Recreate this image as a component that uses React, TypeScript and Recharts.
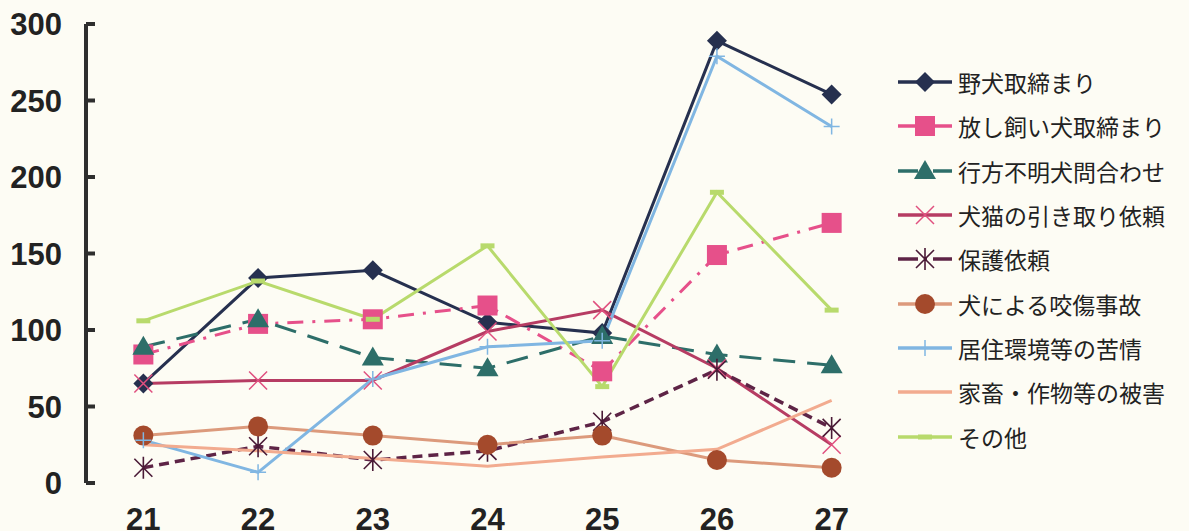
import React from "react";
import { LineChart, Line, XAxis, YAxis } from "recharts";

// fiscal years (H21 - H27)
const years = ["21", "22", "23", "24", "25", "26", "27"];

const nokenTorishimari = [65, 134, 139, 105, 98, 289, 254];
const hanashigaiTorishimari = [84, 104, 107, 116, 73, 149, 170];
const yukueFumei = [89, 107, 82, 75, 96, 84, 77];
const hikitoriIrai = [65, 67, 67, 99, 113, 75, 25];
const hogoIrai = [10, 24, 15, 21, 40, 74, 36];
const kosho = [31, 37, 31, 25, 31, 15, 10];
const kyojuKankyo = [28, 7, 68, 89, 93, 279, 233];
const kachikuHigai = [25, 21, 16, 11, 17, 22, 54];
const sonota = [106, 132, 107, 155, 63, 190, 113];

const yTicks = [0, 50, 100, 150, 200, 250, 300];

const AXIS = "#2e2e2e";
const BG = "#fdfcf4";

type Dot = { cx?: number; cy?: number };

const Diamond = ({ cx, cy }: Dot) =>
  cx == null || cy == null ? null : (
    <polygon points={`${cx},${cy - 10} ${cx + 10},${cy} ${cx},${cy + 10} ${cx - 10},${cy}`} fill="#26304f" />
  );
const Square = ({ cx, cy }: Dot) =>
  cx == null || cy == null ? null : (
    <rect x={cx - 10} y={cy - 10} width={20} height={20} fill="#e6508a" />
  );
const Triangle = ({ cx, cy }: Dot) =>
  cx == null || cy == null ? null : (
    <polygon points={`${cx},${cy - 11} ${cx + 11},${cy + 8} ${cx - 11},${cy + 8}`} fill="#2d6e69" />
  );
const Cross = ({ cx, cy }: Dot) =>
  cx == null || cy == null ? null : (
    <path d={`M${cx - 9},${cy - 9}L${cx + 9},${cy + 9}M${cx + 9},${cy - 9}L${cx - 9},${cy + 9}`} stroke="#e0507f" strokeWidth={1.5} />
  );
const Star = ({ cx, cy }: Dot) =>
  cx == null || cy == null ? null : (
    <path
      d={`M${cx - 9},${cy - 9}L${cx + 9},${cy + 9}M${cx + 9},${cy - 9}L${cx - 9},${cy + 9}M${cx},${cy - 11}L${cx},${cy + 11}`}
      stroke="#4a1a36"
      strokeWidth={1.6}
    />
  );
const Circle = ({ cx, cy }: Dot) =>
  cx == null || cy == null ? null : <circle cx={cx} cy={cy} r={10} fill="#a44a2c" />;
const Plus = ({ cx, cy }: Dot) =>
  cx == null || cy == null ? null : (
    <path d={`M${cx - 8},${cy}L${cx + 8},${cy}M${cx},${cy - 8}L${cx},${cy + 8}`} stroke="#80b6e2" strokeWidth={1.5} />
  );
const Bar = ({ cx, cy }: Dot) =>
  cx == null || cy == null ? null : (
    <rect x={cx - 7} y={cy - 2.5} width={14} height={5} fill="#b8da6c" />
  );

const series = [
  { key: "a", name: "野犬取締まり", values: nokenTorishimari, color: "#26304f", dash: undefined, marker: Diamond },
  { key: "b", name: "放し飼い犬取締まり", values: hanashigaiTorishimari, color: "#e6508a", dash: "16 9 3 9", marker: Square },
  { key: "c", name: "行方不明犬問合わせ", values: yukueFumei, color: "#2d6e69", dash: "22 12", marker: Triangle },
  { key: "d", name: "犬猫の引き取り依頼", values: hikitoriIrai, color: "#b63c63", dash: undefined, marker: Cross },
  { key: "e", name: "保護依頼", values: hogoIrai, color: "#5e2446", dash: "10 6", marker: Star },
  { key: "f", name: "犬による咬傷事故", values: kosho, color: "#dc9a7c", dash: undefined, marker: Circle },
  { key: "g", name: "居住環境等の苦情", values: kyojuKankyo, color: "#80b6e2", dash: undefined, marker: Plus },
  { key: "h", name: "家畜・作物等の被害", values: kachikuHigai, color: "#f2ab8f", dash: undefined, marker: null },
  { key: "i", name: "その他", values: sonota, color: "#b8da6c", dash: undefined, marker: Bar },
];

const data = years.map((year, i) => {
  const row: Record<string, number | string> = { x: i + 0.5, year };
  series.forEach((s) => {
    row[s.key] = s.values[i];
  });
  return row;
});

const boundaryTicks = years.map((_, i) => i + 1);
const labelTicks = years.map((_, i) => i + 0.5);

function LegendBox() {
  return (
    <div style={{ position: "absolute", left: 896, top: 60, width: 293 }}>
      {series.map((s) => {
        const M = s.marker;
        return (
          <div key={s.key} style={{ display: "flex", alignItems: "center", height: 44.3 }}>
            <svg width={60} height={30} style={{ flexShrink: 0 }}>
              <line x1={2} y1={15} x2={56} y2={15} stroke={s.color} strokeWidth={3.5} strokeDasharray={s.dash ? "20 6 3 6" : undefined} />
              {M && <M cx={29} cy={15} />}
            </svg>
            <span
              style={{
                fontFamily: "'Noto Sans CJK JP', 'Noto Sans', sans-serif",
                fontSize: 23,
                color: "#222",
                marginLeft: 2,
                whiteSpace: "nowrap",
              }}
            >
              {s.name}
            </span>
          </div>
        );
      })}
    </div>
  );
}

export default function App() {
  return (
    <div style={{ position: "fixed", inset: 0, background: BG }}>
      <div style={{ position: "absolute", left: 0, top: 0, width: 1189, height: 531 }}>
        <LineChart width={1189} height={531} data={data} margin={{ top: 24, right: 300, bottom: 0, left: 0 }}>
          <YAxis
            type="number"
            domain={[0, 300]}
            ticks={yTicks}
            width={86}
            axisLine={{ stroke: AXIS, strokeWidth: 4 }}
            tickLine={{ stroke: AXIS, strokeWidth: 4 }}
            tickSize={-9}
            tickMargin={33}
            tick={{ fill: "#222", fontSize: 31, fontWeight: 700, fontFamily: "'Liberation Sans', Arial, sans-serif" }}
          />
          <XAxis
            xAxisId="b"
            dataKey="x"
            type="number"
            domain={[0, 7]}
            ticks={boundaryTicks}
            height={0}
            axisLine={{ stroke: AXIS, strokeWidth: 4 }}
            tickLine={{ stroke: AXIS, strokeWidth: 3 }}
            tickSize={-9}
            tick={() => <g />}
          />
          <XAxis
            xAxisId="l"
            dataKey="x"
            type="number"
            domain={[0, 7]}
            ticks={labelTicks}
            tickFormatter={(v: number) => years[Math.round(v - 0.5)]}
            height={48}
            axisLine={false}
            tickLine={false}
            tickSize={0}
            tickMargin={25}
            tick={{ fill: "#222", fontSize: 31, fontWeight: 700, fontFamily: "'Liberation Sans', Arial, sans-serif" }}
          />
          {series.map((s) => {
            const M = s.marker;
            return (
              <Line
                key={s.key}
                xAxisId="l"
                dataKey={s.key}
                name={s.name}
                stroke={s.color}
                strokeWidth={s.key === "e" ? 3.5 : 3}
                strokeDasharray={s.dash}
                dot={M ? (p: any) => <M key={p.index} cx={p.cx} cy={p.cy} /> : false}
                activeDot={false}
                isAnimationActive={false}
              />
            );
          })}
        </LineChart>
      </div>
      <LegendBox />
    </div>
  );
}
